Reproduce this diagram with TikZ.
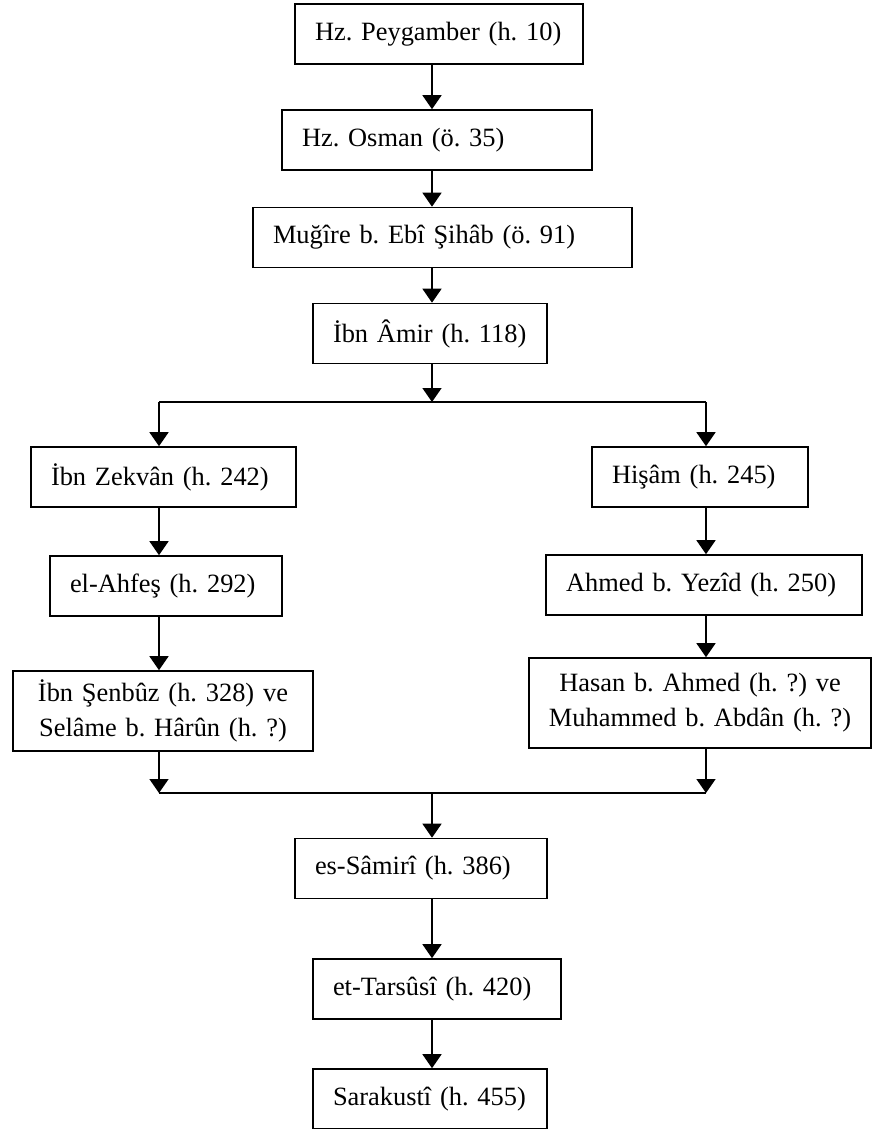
\documentclass[tikz,border=0pt]{standalone}
\usepackage{fontspec}
\setmainfont{Liberation Serif}
\frenchspacing
\usetikzlibrary{arrows.meta}

\tikzset{
  kutu/.style={draw,line width=0.8pt,inner xsep=10pt,inner ysep=0pt,minimum height=30pt,text width=#1,align=left,font=\fontsize{13.2}{17.5}\selectfont\frenchspacing},
  ikikutu/.style={kutu=#1,align=center,inner xsep=4pt},
  ok/.style={line width=0.75pt,-{Triangle[width=9.5pt,length=7pt]}},
  cizgi/.style={line width=0.75pt}
}

\begin{document}
\begin{tikzpicture}[x=0.5pt,y=-0.5pt]
\useasboundingbox (0,0) rectangle (873,1129);

\node (peyg) at (439,34) [kutu=124pt] {Hz. Peygamber (h. 10)};
\node (osman) at (437,140) [kutu=135pt] {Hz. Osman (ö. 35)};
\node (mugire) at (442.5,237.5) [kutu=169.5pt] {Muğîre b. Ebî Şihâb (ö. 91)};
\node (amir) at (430,333.5) [kutu=97pt] {İbn Âmir (h. 118)};

\node (zekvan) at (163.5,477) [kutu=112.5pt] {İbn Zekvân (h. 242)};
\node (ahfes) at (166,586) [kutu=96pt] {el-Ahfeş (h. 292)};
\node (senbuz) at (163,711) [ikikutu=142pt,minimum height=40pt] {İbn Şenbûz (h. 328) ve\\Selâme b. Hârûn (h. ?)};

\node (hisam) at (700,477) [kutu=88pt] {Hişâm (h. 245)};
\node (yezid) at (704,585) [kutu=138pt] {Ahmed b. Yezîd (h. 250)};
\node (hasan) at (700,703) [ikikutu=163pt,minimum height=45pt] {Hasan b. Ahmed (h. ?) ve\\Muhammed b. Abdân (h. ?)};

\node (samiri) at (421,868.5) [kutu=106pt] {es-Sâmirî (h. 386)};
\node (tarsusi) at (437,989) [kutu=104pt] {et-Tarsûsî (h. 420)};
\node (sarakusti) at (430,1099) [kutu=97pt] {Sarakustî (h. 455)};

\coordinate (orta) at (432,0);
\coordinate (sol) at (159,0);
\coordinate (sag) at (706,0);
\coordinate (ust) at (0,402);
\coordinate (alt) at (0,793);

\draw[ok] (peyg.south -| orta) -- (osman.north -| orta);
\draw[ok] (osman.south -| orta) -- (mugire.north -| orta);
\draw[ok] (mugire.south -| orta) -- (amir.north -| orta);
\draw[ok] (amir.south -| orta) -- (ust -| orta);

\draw[cizgi] (ust -| sol) -- (ust -| sag);
\draw[ok] (ust -| sol) -- (zekvan.north -| sol);
\draw[ok] (ust -| sag) -- (hisam.north -| sag);

\draw[ok] (zekvan.south -| sol) -- (ahfes.north -| sol);
\draw[ok] (ahfes.south -| sol) -- (senbuz.north -| sol);
\draw[ok] (hisam.south -| sag) -- (yezid.north -| sag);
\draw[ok] (yezid.south -| sag) -- (hasan.north -| sag);

\draw[ok] (senbuz.south -| sol) -- (alt -| sol);
\draw[ok] (hasan.south -| sag) -- (alt -| sag);
\draw[cizgi] (alt -| sol) -- (alt -| sag);

\draw[ok] (alt -| orta) -- (samiri.north -| orta);
\draw[ok] (samiri.south -| orta) -- (tarsusi.north -| orta);
\draw[ok] (tarsusi.south -| orta) -- (sarakusti.north -| orta);

\end{tikzpicture}
\end{document}
